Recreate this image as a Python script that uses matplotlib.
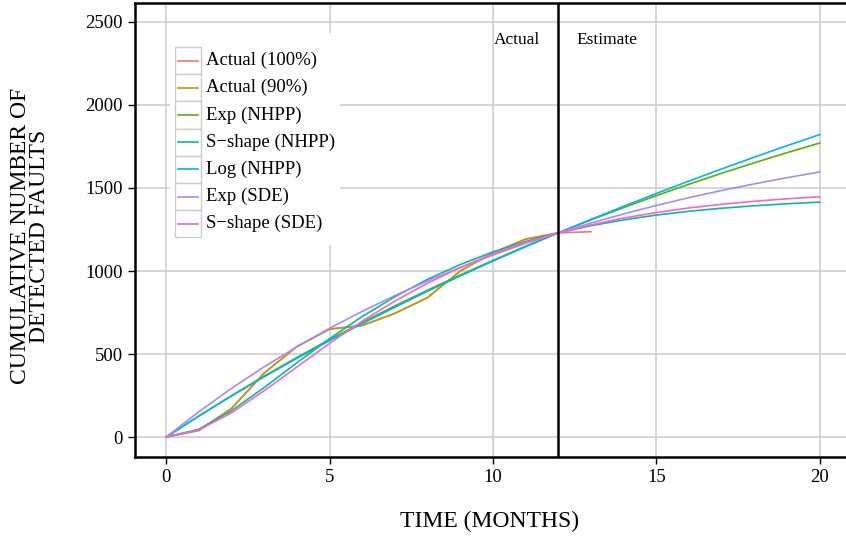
import numpy as np
import matplotlib.pyplot as plt
from matplotlib.patches import Rectangle
from matplotlib.lines import Line2D

plt.rcParams['font.family'] = ['Liberation Serif', 'DejaVu Serif']

# data (months, cumulative faults)
t_actual = list(range(0, 14))
actual_100 = [0, 40, 172, 385, 545, 650, 672, 745, 840, 1000, 1110, 1192, 1230, 1237]
t_actual90 = list(range(0, 13))
actual_90 = [0, 40, 172, 385, 545, 650, 672, 745, 840, 1000, 1110, 1192, 1230]

t_model = list(range(0, 21))
exp_nhpp = [0, 127, 249, 367, 479, 587, 690, 790, 885, 976, 1064, 1149, 1230,
            1308, 1382, 1454, 1523, 1589, 1652, 1713, 1771]
s_nhpp = [0, 47, 158, 298, 447, 592, 726, 845, 950, 1039, 1115, 1178, 1230,
          1273, 1308, 1337, 1360, 1378, 1393, 1405, 1415]
log_nhpp = [0, 126, 247, 363, 474, 581, 683, 782, 878, 970, 1060, 1146, 1230,
            1311, 1390, 1467, 1542, 1615, 1686, 1755, 1822]
exp_sde = [0, 152, 293, 423, 543, 655, 757, 852, 940, 1021, 1096, 1166, 1230,
           1289, 1344, 1395, 1442, 1485, 1525, 1562, 1597]
s_sde = [0, 43, 146, 279, 422, 564, 698, 819, 927, 1021, 1103, 1172, 1229,
         1278, 1319, 1352, 1380, 1402, 1420, 1435, 1447]

labels = ['Actual (100%)', 'Actual (90%)', 'Exp (NHPP)', 'S\u2212shape (NHPP)',
          'Log (NHPP)', 'Exp (SDE)', 'S\u2212shape (SDE)']
colors = ['#F8766D', '#C49A00', '#53B400', '#00C094', '#00B6EB', '#A58AFF', '#FB61D7']
series = [(t_actual, actual_100), (t_actual90, actual_90), (t_model, exp_nhpp),
          (t_model, s_nhpp), (t_model, log_nhpp), (t_model, exp_sde), (t_model, s_sde)]

W, H = 846, 540
fig = plt.figure(figsize=(W / 100, H / 100), dpi=100)
# axes box in pixels: left 135, right 846, top 3, bottom 457
ax = fig.add_axes([135 / W, (H - 457) / H, (846 - 135) / W, (457 - 3) / H])

for (tx, ty), c in zip(series, colors):
    ax.plot(tx, ty, color=c, lw=1.2, zorder=3)

ax.axvline(12, color='black', lw=1.8, zorder=4)

ax.set_xlim(-0.95, 20.8)
ax.set_ylim(-120, 2614)
ax.set_xticks([0, 5, 10, 15, 20])
ax.set_yticks([0, 500, 1000, 1500, 2000, 2500])
ax.grid(True, color='#cccccc', lw=1.1)
ax.set_axisbelow(True)
ax.tick_params(direction='out', length=5, width=1, labelsize=13.5, colors='black', pad=4)
for s in ['left', 'bottom', 'top']:
    ax.spines[s].set_linewidth(1.8)
ax.spines['right'].set_visible(False)

ax.text(11.45, 2392, 'Actual', ha='right', va='center', fontsize=12.5)
ax.text(12.55, 2392, 'Estimate', ha='left', va='center', fontsize=12.5)

fig.text(490 / W, 1 - 521 / H, 'TIME (MONTHS)', ha='center', va='center', fontsize=17)
fig.text(30 / W, 1 - 236 / H, 'CUMULATIVE NUMBER OF\nDETECTED FAULTS', ha='center',
         va='center', rotation=90, fontsize=17, linespacing=0.9)


# legend drawn by hand (ggplot style keys)
def fx(px):
    return (px - 135) / (846 - 135)


def fy(py):
    return (457 - py) / (457 - 3)


ax.add_patch(Rectangle((fx(170), fy(245)), fx(340) - fx(170), fy(33) - fy(245),
                       transform=ax.transAxes, facecolor='white', edgecolor='none', zorder=5))
top, row, kw = 47, 27.2, 26
for i, (lab, c) in enumerate(zip(labels, colors)):
    y0 = top + i * row
    ax.add_patch(Rectangle((fx(175), fy(y0 + row)), fx(175 + kw) - fx(175), fy(y0) - fy(y0 + row),
                           transform=ax.transAxes, facecolor='white', edgecolor='#cccccc',
                           lw=1.0, zorder=6))
    ym = fy(y0 + row / 2)
    ax.add_line(Line2D([fx(178), fx(198)], [ym, ym], transform=ax.transAxes, color=c,
                       lw=1.2, zorder=7))
    ax.text(fx(206), ym, lab, transform=ax.transAxes, ha='left', va='center',
            fontsize=13.5, zorder=7)

fig.savefig('out.png', dpi=100)
